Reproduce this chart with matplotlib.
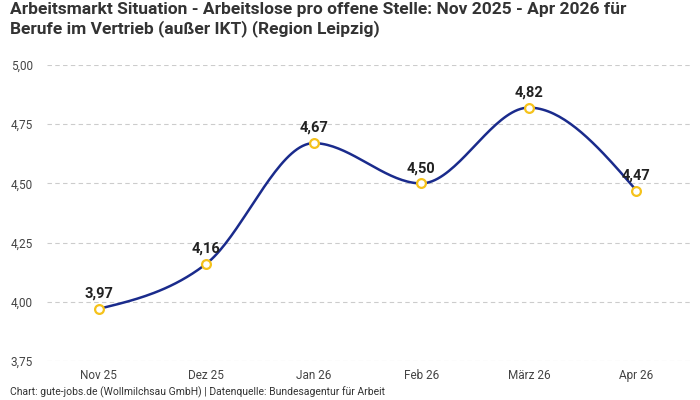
import numpy as np
import matplotlib.pyplot as plt
from matplotlib import font_manager

months = ['Nov 25', 'Dez 25', 'Jan 26', 'Feb 26', 'März 26', 'Apr 26']
werte = [3.97, 4.16, 4.67, 4.50, 4.82, 4.47]
y_ticks = [3.75, 4.00, 4.25, 4.50, 4.75, 5.00]

title = ('Arbeitsmarkt Situation - Arbeitslose pro offene Stelle: Nov 2025 - Apr 2026 für\n'
         'Berufe im Vertrieb (außer IKT) (Region Leipzig)')
footer = 'Chart: gute-jobs.de (Wollmilchsau GmbH) | Datenquelle: Bundesagentur für Arbeit'

names = {f.name for f in font_manager.fontManager.ttflist}
fam = 'Liberation Sans Narrow' if 'Liberation Sans Narrow' in names else 'Roboto'
plt.rcParams['font.family'] = [fam, 'DejaVu Sans']


def monotone_curve(x, y, n=40):
    # monotone cubic (Steffen) like d3.curveMonotoneX
    x = np.asarray(x, float)
    y = np.asarray(y, float)
    h = np.diff(x)
    s = np.diff(y) / h
    t = np.zeros(len(x))
    for i in range(1, len(x) - 1):
        p = (s[i - 1] * h[i] + s[i] * h[i - 1]) / (h[i - 1] + h[i])
        t[i] = (np.sign(s[i - 1]) + np.sign(s[i])) * min(abs(s[i - 1]), abs(s[i]), 0.5 * abs(p))
    t[0] = (3 * s[0] - t[1]) / 2
    t[-1] = (3 * s[-1] - t[-2]) / 2
    xs, ys = [], []
    for i in range(len(x) - 1):
        u = np.linspace(0, 1, n)
        h00 = 2 * u**3 - 3 * u**2 + 1
        h10 = u**3 - 2 * u**2 + u
        h01 = -2 * u**3 + 3 * u**2
        h11 = u**3 - u**2
        xs.append(x[i] + u * h[i])
        ys.append(h00 * y[i] + h10 * h[i] * t[i] + h01 * y[i + 1] + h11 * h[i] * t[i + 1])
    return np.concatenate(xs), np.concatenate(ys)


fig = plt.figure(figsize=(7, 4), dpi=100)
ax = fig.add_axes([0.067, 0.0975, 0.919, 0.74])

xpos = np.arange(len(months))
cx, cy = monotone_curve(xpos, werte)
ax.plot(cx, cy, color='#1a2b8c', lw=1.8, zorder=3)
ax.scatter(xpos, werte, s=40, facecolor='white', edgecolor='#f5c21b', linewidth=1.6, zorder=4)

for xi, v in zip(xpos, werte):
    ax.annotate(f'{v:.2f}'.replace('.', ','), (xi, v), xytext=(0, 6), textcoords='offset points',
                ha='center', va='bottom', fontsize=10.5, fontweight='bold', color='#222222', zorder=5)

ax.set_xlim(-0.48, 5.5)
ax.set_ylim(3.75, 5.0)
ax.set_xticks(xpos)
ax.set_xticklabels(months)
ax.set_yticks(y_ticks)
ax.set_yticklabels([f'{v:.2f}'.replace('.', ',') for v in y_ticks])
ax.tick_params(length=0, labelsize=8.5, colors='#444444')
ax.tick_params(axis='x', pad=6)
ax.tick_params(axis='y', pad=10)
ax.grid(axis='y', color='#cccccc', linestyle=(0, (4, 3)), lw=0.8)
for sp in ax.spines.values():
    sp.set_visible(False)

fig.text(0.014, 0.995, title, ha='left', va='top', fontsize=12.5, fontweight='bold',
         color='#333333', linespacing=1.25)
fig.text(0.014, 0.004, footer, ha='left', va='bottom', fontsize=7.5, color='#333333')

fig.savefig('out.png', dpi=100)
